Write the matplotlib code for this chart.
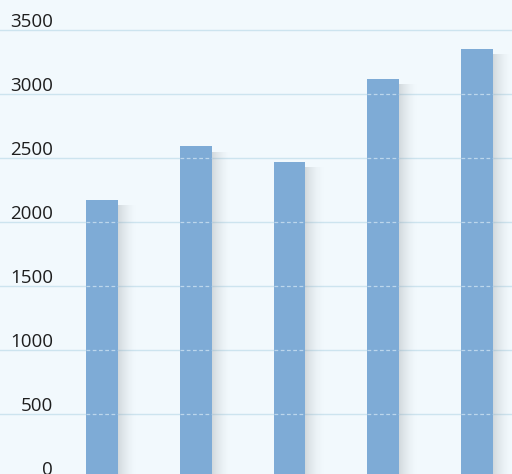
import matplotlib
matplotlib.use("Agg")
import matplotlib.pyplot as plt
import numpy as np

categories = ["A", "B", "C", "D", "E"]
values = [2170, 2590, 2470, 3120, 3350]
yticks = [0, 500, 1000, 1500, 2000, 2500, 3000, 3500]
ytick_labels = ["0", "500", "1000", "1500", "2000", "2500", "3000", "3500"]

bg = "#f2f9fd"
bar_color = "#7eabd6"
grid_color = "#cde4ef"

fig = plt.figure(figsize=(5.12, 4.74), dpi=100, facecolor=bg)
ax = fig.add_axes([0, 0, 1, 1])
ax.set_facecolor(bg)

x = np.arange(len(categories))
w = 0.34
ax.set_xlim(-1.088, 4.373)
ax.set_ylim(31, 3734)

# gridlines
for t in yticks:
    ax.axhline(t, color=grid_color, lw=1.0, zorder=0)

# soft shadows to the right of bars
n = 18
dx = 0.0107
for k in range(n):
    a = 0.30 * (1 - k / n) ** 1.6
    ax.bar(x + w / 2 + k * dx, np.array(values) - 40, width=dx, align="edge",
           color="#8a9096", alpha=a, lw=0, zorder=1)

ax.bar(x, values, width=w, color=bar_color, lw=0, zorder=2)

# light dashed gridlines over the bars
for t in yticks:
    for xi, v in zip(x, values):
        if t < v:
            ax.hlines(t, xi - w / 2, xi + w / 2, color="#bcd6ec", lw=0.9,
                      linestyles=(0, (3, 2)), zorder=3)

for t, lab in zip(yticks, ytick_labels):
    ax.text(-0.523, t + 64, lab, ha="right", va="center", fontsize=13.5,
            family=["Open Sans", "DejaVu Sans"], color="#1e1e1e", zorder=4)

ax.axis("off")
fig.savefig("out.png", dpi=100, facecolor=bg)
